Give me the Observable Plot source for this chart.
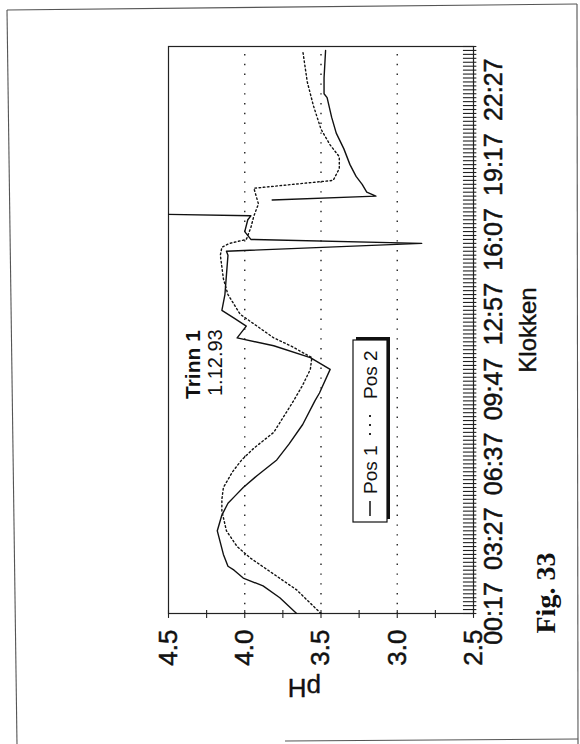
<!DOCTYPE html>
<html>
<head>
<meta charset="utf-8">
<script src="https://cdn.jsdelivr.net/npm/d3@7"></script>
<script src="https://cdn.jsdelivr.net/npm/@observablehq/plot@0.6"></script>
<style>
html,body{margin:0;padding:0;background:#fff;overflow:hidden;}
#page{position:relative;width:580px;height:744px;overflow:hidden;background:#fff;}
#rot{position:absolute;left:0;top:0;width:744px;height:580px;transform-origin:0 0;transform:translateY(744px) rotate(-90deg);}
#border{position:absolute;left:0;top:0;pointer-events:none;}
</style>
</head>
<body>
<div id="page">
  <div id="rot"></div>
  <svg id="border" width="580" height="744">
    <g stroke="#555" stroke-width="1.1" fill="none">
      <line x1="7" y1="10" x2="577" y2="4"></line>
      <line x1="7" y1="10" x2="17" y2="744"></line>
      <line x1="577" y1="4" x2="578" y2="744"></line>
      <line x1="285" y1="741" x2="578" y2="739"></line>
    </g>
  </svg>
</div>
<script>
// ---- data ----
const timeTickLabels = ["00:17","03:27","06:37","09:47","12:57","16:07","19:17","22:27"];
const phTickLabels = [2.5, 3.0, 3.5, 4.0, 4.5];
const phMinorTicks = [2.5, 2.75, 3.0, 3.25, 3.5, 3.75, 4.0, 4.25, 4.5];
const gridPH = [3.0, 3.5, 4.0];
const seriesNames = ["Pos 1", "Pos 2"];
const titleText = "Trinn 1";
const subtitleText = "1.12.93";
const xLabel = "Klokken";
const yLabel = "pH";
const figLabel = "Fig. 33";

const pos1Clock = ["00:17","00:57","01:27","01:47","02:07","02:17","02:47","03:17","03:47","04:27",
  "04:57","05:17","05:37","06:07","06:47","07:27","08:17","09:17","09:37","10:37",
  "11:07","11:37","11:57","12:27","12:47","13:07","13:47","14:37","15:27","15:37",
  "15:57","16:07","16:27","16:57","17:07","17:17","17:37","17:47","17:57","18:07",
  "18:27","18:47","19:17","19:57","20:37","21:17","22:07","22:17","22:57","00:07"];
const pos1PH = [3.66,3.77,3.88,4.01,4.07,4.11,4.14,4.16,4.18,4.15,
  4.11,4.06,4.01,3.92,3.79,3.71,3.62,3.54,3.51,3.44,
  3.57,3.81,4.05,3.99,4.07,4.15,4.13,4.12,4.11,4.12,
  2.84,3.96,4.00,3.98,3.96,5.5,null,3.82,3.14,3.20,
  3.23,3.27,3.31,3.35,3.40,3.43,3.46,3.48,3.48,3.47];

const pos2Clock = ["00:17","01:17","01:57","02:37","03:07","03:47","04:37","05:07","05:37","06:17",
  "06:47","07:17","07:57","09:17","09:57","10:37","11:07","11:37","11:57","12:27",
  "12:57","13:47","14:27","15:27","15:47","15:57","16:07","16:37","17:07","17:37",
  "18:17","18:37","19:07","19:37","20:07","20:47","21:47","22:47","00:07"];
const pos2PH = [3.50,3.66,3.81,3.96,4.05,4.12,4.15,4.15,4.14,4.08,
  4.02,3.94,3.81,3.68,3.62,3.57,3.56,3.70,3.81,3.92,
  4.03,4.11,4.14,4.16,4.15,4.10,3.99,3.96,3.94,3.91,
  3.94,3.42,3.38,3.38,3.44,3.50,3.55,3.59,3.62];

// ---- helpers ----
const START = 17; // minutes after midnight of first sample (00:17)
function toMin(c) {
  const [h, m] = c.split(":").map(Number);
  let t = h * 60 + m - START;
  if (t < 0) t += 1440;
  return t;
}
function fmt(t) {
  const tot = t + START;
  const h = Math.floor(tot / 60) % 24, m = tot % 60;
  return String(h).padStart(2, "0") + ":" + String(m).padStart(2, "0");
}

const data1 = pos1Clock.map((c, i) => ({t: toMin(c), ph: pos1PH[i]}));
const data2 = pos2Clock.map((c, i) => ({t: toMin(c), ph: pos2PH[i]}));
const labelTimes = timeTickLabels.map(toMin);
const sampleTicks = d3.range(0, 1441, 10); // one hash mark per 10-minute sample

const W = 744, H = 580;
const sans = "'Liberation Sans', Arial, Helvetica, sans-serif";
const ink = "#111";

const plot = Plot.plot({
  width: W, height: H,
  marginLeft: 130, marginRight: 47, marginTop: 168, marginBottom: 107,
  x: {domain: [0, 1440], axis: null},
  y: {domain: [2.5, 4.5], axis: null},
  style: {fontFamily: sans, background: "#fff", color: ink, overflow: "visible"},
  marks: [
    Plot.ruleY(gridPH, {y: d => d, stroke: "#222", strokeWidth: 1.4, strokeDasharray: "1.4,8.4"}),
    Plot.ruleX(sampleTicks, {x: d => d, y1: 2.5 - 0.022, y2: 2.5 + 0.066, stroke: "#222", strokeWidth: 1.1}),
    Plot.ruleY(phMinorTicks, {y: d => d, x1: -10, x2: 10, stroke: "#222", strokeWidth: 1.1}),
    Plot.frame({stroke: "#222", strokeWidth: 1.2}),
    Plot.line(data1, {x: "t", y: "ph", stroke: ink, strokeWidth: 1.4, clip: true}),
    Plot.line(data2, {x: "t", y: "ph", stroke: ink, strokeWidth: 1.4, strokeDasharray: "1.6,2.6", clip: true}),
    Plot.text(labelTimes, {x: d => d, text: d => fmt(d), frameAnchor: "bottom", lineAnchor: "top", dy: 11, fontSize: 25, fill: ink, stroke: ink, strokeWidth: 0.5}),
    Plot.text(phTickLabels, {y: d => d, text: d => d.toFixed(1), frameAnchor: "left", textAnchor: "end", dx: -16, fontSize: 26, fill: ink, stroke: ink, strokeWidth: 0.5}),
    Plot.text([yLabel], {text: d => d, frameAnchor: "left", dx: -74, rotate: -90, fontSize: 26, fill: ink, stroke: ink, strokeWidth: 0.4}),
    Plot.text([xLabel], {text: d => d, frameAnchor: "bottom", lineAnchor: "top", dy: 45, fontSize: 24, fill: ink, stroke: ink, strokeWidth: 0.4}),
    Plot.text([figLabel], {text: d => d, frameAnchor: "bottom-left", textAnchor: "start", lineAnchor: "top", dx: -20, dy: 62, fontSize: 28, fontWeight: "bold", fontFamily: "'Liberation Serif', 'Times New Roman', serif", fill: ink}),
    Plot.text([titleText], {text: d => d, frameAnchor: "top-left", dx: 214.5, dy: 17, lineAnchor: "top", fontSize: 21, fontWeight: "bold", fill: ink}),
    Plot.text([subtitleText], {text: d => d, frameAnchor: "top-left", dx: 217.5, dy: 39, lineAnchor: "top", fontSize: 20, fill: ink})
  ]
});

// legend box (drawn in the chart's own pixel coordinates)
const svg = d3.select(plot);
const lg = svg.append("g")
  .attr("font-family", sans).attr("font-size", 19).attr("fill", ink)
  .attr("text-anchor", "start");
lg.append("rect").attr("x", 225).attr("y", 356).attr("width", 182).attr("height", 34).attr("fill", ink);
lg.append("rect").attr("x", 222).attr("y", 353).attr("width", 182).attr("height", 34).attr("fill", "#fff").attr("stroke", ink).attr("stroke-width", 1.2);
lg.append("line").attr("x1", 228).attr("x2", 243).attr("y1", 370).attr("y2", 370).attr("stroke", ink).attr("stroke-width", 1.5);
lg.append("text").attr("x", 250).attr("y", 377).attr("text-anchor", "start").text(seriesNames[0]);
lg.append("line").attr("x1", 309).attr("x2", 336).attr("y1", 370).attr("y2", 370).attr("stroke", ink).attr("stroke-width", 1.8).attr("stroke-dasharray", "2,7");
lg.append("text").attr("x", 345).attr("y", 377).attr("text-anchor", "start").text(seriesNames[1]);

document.getElementById("rot").appendChild(plot);
</script>
</body>
</html>
